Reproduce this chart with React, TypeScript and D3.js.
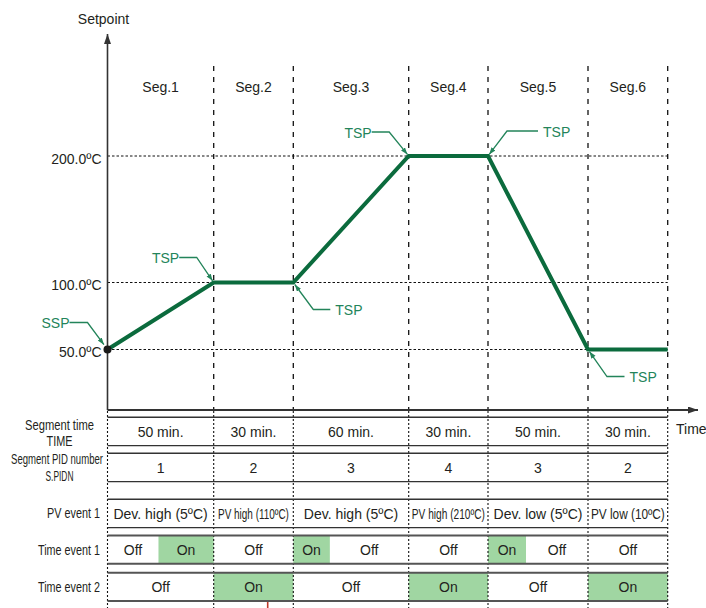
import React from 'react';
import * as d3 from 'd3';

// ---------- data ----------
const segmentLabels = ['Seg.1', 'Seg.2', 'Seg.3', 'Seg.4', 'Seg.5', 'Seg.6'];
const segmentMinutes = [50, 30, 60, 30, 50, 30];
const profileTimes = [0, 50, 80, 140, 170, 220, 250];
const profileValues = [50, 100, 100, 200, 200, 50, 50];
const yTickValues = [50, 100, 200];
const yTickLabels = ['50.0ºC', '100.0ºC', '200.0ºC'];
const segmentTimeTexts = ['50 min.', '30 min.', '60 min.', '30 min.', '50 min.', '30 min.'];
const pidNumbers = ['1', '2', '3', '4', '3', '2'];
const pvEventTexts = ['Dev. high (5ºC)', 'PV high (110ºC)', 'Dev. high (5ºC)', 'PV high (210ºC)', 'Dev. low (5ºC)', 'PV low (10ºC)'];
const pvEventNarrowWidths = [0, 71, 0, 73, 0, 74];
const timeEvent1Start = [0, 24, 50, 80, 99, 140, 170, 189, 220];
const timeEvent1End = [24, 50, 80, 99, 140, 170, 189, 220, 250];
const timeEvent1State = ['Off', 'On', 'Off', 'On', 'Off', 'Off', 'On', 'Off', 'Off'];
const timeEvent2Start = [0, 50, 80, 140, 170, 220];
const timeEvent2End = [50, 80, 140, 170, 220, 250];
const timeEvent2State = ['Off', 'On', 'Off', 'On', 'Off', 'On'];
const annotationLabels = ['SSP', 'TSP', 'TSP', 'TSP', 'TSP', 'TSP'];
const annotationPointIndex = [0, 1, 2, 3, 4, 5];

// ---------- layout ----------
const W = 706;
const H = 608;
const columnEdges = [107.5, 213.7, 293.3, 408.7, 488, 588, 667.7];
const chartTop = 66;
const axisY = 410;
const rowTops = [417.3, 453.3, 499.3, 535.5, 572.7];
const rowH = 28.3;
const FONT = '"Liberation Sans", Arial, Helvetica, sans-serif';
const TEXT = '#231f20';
const LINE_GREEN = '#0b6b3d';
const ANN_GREEN = '#23845a';
const FILL_GREEN = '#a0d6a2';

const annElbow = [
  [-20, -27, 18, 6],
  [-17, -25, 17.5, 2],
  [20, 27, 17, 2.5],
  [-19.5, -24, 17.5, 2],
  [19, -25, 31, 2],
  [19, 27, 17.5, 2.5],
];

let measureCtx: CanvasRenderingContext2D | null = null;
function measure(txt: string, size: number): number {
  if (!measureCtx) {
    const c = document.createElement('canvas');
    measureCtx = c.getContext('2d');
  }
  if (!measureCtx) return txt.length * size * 0.55;
  measureCtx.font = `${size}px ${FONT}`;
  return measureCtx.measureText(txt).width;
}

function NarrowText(props: {
  x: number;
  y: number;
  text: string;
  width: number;
  size: number;
  anchor: 'start' | 'middle' | 'end';
}) {
  const natural = measure(props.text, props.size);
  const sx = natural > 0 ? props.width / natural : 1;
  return (
    <text
      transform={`translate(${props.x},${props.y}) scale(${sx},1)`}
      x={0}
      y={0}
      textAnchor={props.anchor}
      dominantBaseline="central"
      fontSize={props.size}
      fill={TEXT}
    >
      {props.text}
    </text>
  );
}

export default function App() {
  const cumulative = [0];
  segmentMinutes.forEach((m) => cumulative.push(cumulative[cumulative.length - 1] + m));
  const x = d3.scaleLinear().domain(cumulative).range(columnEdges);
  const y = d3.scaleLinear().domain(yTickValues).range([349.5, 282.5, 156]);
  const plotLeft = x(0);
  const plotRight = x(cumulative[cumulative.length - 1]);

  const line = d3
    .line<number>()
    .x((_, i) => x(profileTimes[i]))
    .y((d) => y(d));

  const segMid = (i: number) => (x(cumulative[i]) + x(cumulative[i + 1])) / 2;
  const rowMid = (r: number) => rowTops[r] + rowH / 2 + 0.5;

  const cellText = (key: string, cx: number, cy: number, txt: string, size = 14) => (
    <text key={key} x={cx} y={cy} textAnchor="middle" dominantBaseline="central" fontSize={size} fill={TEXT}>
      {txt}
    </text>
  );

  return (
    <svg
      width={W}
      height={H}
      style={{ position: 'absolute', left: 0, top: 0, background: '#fff' }}
      fontFamily={FONT}
    >
      <defs>
        <marker id="annArrow" markerUnits="userSpaceOnUse" markerWidth={8} markerHeight={6} refX={7} refY={2.5} orient="auto">
          <path d="M0,0 L7,2.5 L0,5 z" fill={ANN_GREEN} />
        </marker>
        <marker id="axArrow" markerUnits="userSpaceOnUse" markerWidth={12} markerHeight={8} refX={10} refY={3.5} orient="auto">
          <path d="M0,0 L10,3.5 L0,7 z" fill="#333" />
        </marker>
      </defs>

      {/* time event fills */}
      {timeEvent1State.map((s, i) =>
        s === 'On' ? (
          <rect key={'f1' + i} x={x(timeEvent1Start[i])} y={rowTops[3]} width={x(timeEvent1End[i]) - x(timeEvent1Start[i])} height={rowH} fill={FILL_GREEN} />
        ) : null
      )}
      {timeEvent2State.map((s, i) =>
        s === 'On' ? (
          <rect key={'f2' + i} x={x(timeEvent2Start[i])} y={rowTops[4]} width={x(timeEvent2End[i]) - x(timeEvent2Start[i])} height={rowH} fill={FILL_GREEN} />
        ) : null
      )}

      {/* horizontal dotted grid */}
      {yTickValues.map((v) => (
        <line key={'g' + v} x1={plotLeft} x2={plotRight} y1={y(v)} y2={y(v)} stroke="#111" strokeWidth={1} strokeDasharray="2.5,2" />
      ))}

      {/* vertical dashed segment lines in chart */}
      {cumulative.slice(1).map((t) => (
        <line key={'vd' + t} x1={x(t)} x2={x(t)} y1={chartTop} y2={axisY} stroke="#111" strokeWidth={1.3} strokeDasharray="5,6" />
      ))}
      {/* vertical dotted lines in table */}
      {cumulative.map((t) => (
        <line key={'vt' + t} x1={x(t)} x2={x(t)} y1={axisY + 1} y2={H} stroke="#111" strokeWidth={1.1} strokeDasharray="2,2" />
      ))}

      {/* table row lines */}
      {rowTops.map((top, r) => (
        <g key={'rl' + r}>
          <line x1={plotLeft} x2={plotRight} y1={top} y2={top} stroke={r >= 3 ? '#555' : '#333'} strokeWidth={r >= 3 ? 2 : 1.4} />
          <line x1={plotLeft} x2={plotRight} y1={top + rowH} y2={top + rowH} stroke={r >= 3 ? '#555' : '#333'} strokeWidth={r >= 3 ? 2 : 1.4} />
        </g>
      ))}

      {/* axes */}
      <line x1={plotLeft} x2={plotLeft} y1={axisY} y2={34} stroke="#333" strokeWidth={1.6} markerEnd="url(#axArrow)" />
      <line x1={plotLeft} x2={698} y1={axisY} y2={axisY} stroke="#333" strokeWidth={1.8} markerEnd="url(#axArrow)" />
      <text x={103.5} y={19} textAnchor="middle" dominantBaseline="central" fontSize={14} fill={TEXT}>
        Setpoint
      </text>
      <text x={676} y={429} dominantBaseline="central" fontSize={14} fill={TEXT}>
        Time
      </text>

      {/* y tick labels */}
      {yTickValues.map((v, i) => (
        <text key={'yl' + v} x={101.5} y={y(v) + 2.5} textAnchor="end" dominantBaseline="central" fontSize={14} fill={TEXT}>
          {yTickLabels[i]}
        </text>
      ))}

      {/* segment labels */}
      {segmentLabels.map((s, i) => (
        <text key={s} x={segMid(i)} y={87} textAnchor="middle" dominantBaseline="central" fontSize={14} fill={TEXT}>
          {s}
        </text>
      ))}

      {/* profile */}
      <path d={line(profileValues) || ''} fill="none" stroke={LINE_GREEN} strokeWidth={4} strokeLinejoin="miter" />
      <circle cx={x(profileTimes[0])} cy={y(profileValues[0])} r={4} fill="#1a1a1a" />

      {/* annotations */}
      {annotationLabels.map((lab, i) => {
        const pi = annotationPointIndex[i];
        const px = x(profileTimes[pi]);
        const py = y(profileValues[pi]);
        const [ex, ey, leg, gap] = annElbow[i];
        const exa = px + ex;
        const eya = py + ey;
        const len = Math.hypot(ex, ey);
        const tx = px + (ex / len) * gap;
        const ty = py + (ey / len) * gap;
        const left = ex < 0;
        const lx = left ? exa - leg : exa + leg;
        return (
          <g key={'a' + i}>
            <path d={`M${lx},${eya} L${exa},${eya} L${tx},${ty}`} fill="none" stroke={ANN_GREEN} strokeWidth={1.3} markerEnd="url(#annArrow)" />
            <text x={left ? lx : lx + 5} y={eya + 0.5} textAnchor={left ? 'end' : 'start'} dominantBaseline="central" fontSize={14} fill={ANN_GREEN}>
              {lab}
            </text>
          </g>
        );
      })}

      {/* row labels (condensed) */}
      <NarrowText x={59.5} y={426} text="Segment time" width={69} size={14} anchor="middle" />
      <NarrowText x={59.5} y={442} text="TIME" width={26} size={14} anchor="middle" />
      <NarrowText x={57} y={459.5} text="Segment PID number" width={92} size={14} anchor="middle" />
      <NarrowText x={59.5} y={476} text="S.PIDN" width={28} size={14} anchor="middle" />
      <NarrowText x={100} y={514} text="PV event 1" width={53} size={14} anchor="end" />
      <NarrowText x={100} y={551} text="Time event 1" width={62} size={14} anchor="end" />
      <NarrowText x={100} y={588} text="Time event 2" width={62} size={14} anchor="end" />

      {/* table cells */}
      {segmentTimeTexts.map((t, i) => cellText('st' + i, segMid(i), rowMid(0), t))}
      {pidNumbers.map((t, i) => cellText('pid' + i, segMid(i), rowMid(1), t))}
      {pvEventTexts.map((t, i) =>
        pvEventNarrowWidths[i] ? (
          <NarrowText key={'pv' + i} x={segMid(i)} y={rowMid(2)} text={t} width={pvEventNarrowWidths[i]} size={14} anchor="middle" />
        ) : (
          cellText('pv' + i, segMid(i), rowMid(2), t, 14)
        )
      )}
      {timeEvent1State.map((s, i) => cellText('te1' + i, (x(timeEvent1Start[i]) + x(timeEvent1End[i])) / 2, rowMid(3), s))}
      {timeEvent2State.map((s, i) => cellText('te2' + i, (x(timeEvent2Start[i]) + x(timeEvent2End[i])) / 2, rowMid(4), s))}

      {/* small red tick at bottom */}
      <line x1={267.7} x2={267.7} y1={602} y2={H} stroke="#c0392b" strokeWidth={1.6} />
    </svg>
  );
}
